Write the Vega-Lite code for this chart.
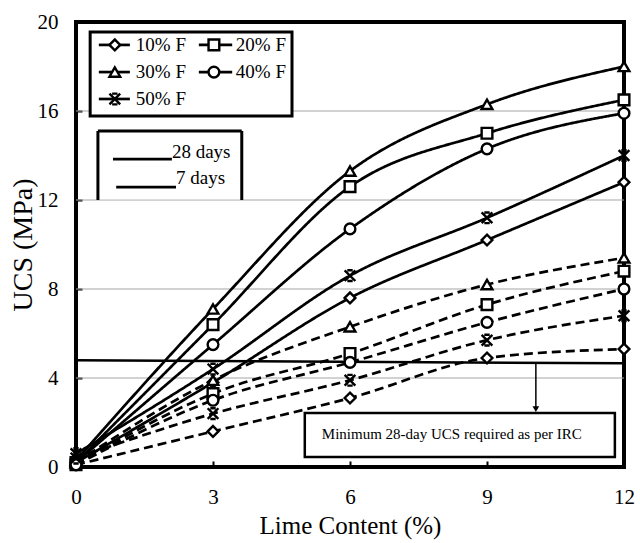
{
  "$schema": "https://vega.github.io/schema/vega-lite/v6.json",
  "width": 548,
  "height": 445,
  "autosize": {"type": "none"},
  "padding": {"left": 76, "top": 22, "right": 16, "bottom": 76},
  "background": "white",
  "datasets": {
    "ucs": [
      {"fly": "10% F", "age": "28 days", "x": 0, "y": 0.2},
      {"fly": "10% F", "age": "28 days", "x": 3, "y": 3.8},
      {"fly": "10% F", "age": "28 days", "x": 6, "y": 7.6},
      {"fly": "10% F", "age": "28 days", "x": 9, "y": 10.2},
      {"fly": "10% F", "age": "28 days", "x": 12, "y": 12.8},
      {"fly": "20% F", "age": "28 days", "x": 0, "y": 0.2},
      {"fly": "20% F", "age": "28 days", "x": 3, "y": 6.4},
      {"fly": "20% F", "age": "28 days", "x": 6, "y": 12.6},
      {"fly": "20% F", "age": "28 days", "x": 9, "y": 15.0},
      {"fly": "20% F", "age": "28 days", "x": 12, "y": 16.5},
      {"fly": "30% F", "age": "28 days", "x": 0, "y": 0.3},
      {"fly": "30% F", "age": "28 days", "x": 3, "y": 7.1},
      {"fly": "30% F", "age": "28 days", "x": 6, "y": 13.3},
      {"fly": "30% F", "age": "28 days", "x": 9, "y": 16.3},
      {"fly": "30% F", "age": "28 days", "x": 12, "y": 18.0},
      {"fly": "40% F", "age": "28 days", "x": 0, "y": 0.2},
      {"fly": "40% F", "age": "28 days", "x": 3, "y": 5.5},
      {"fly": "40% F", "age": "28 days", "x": 6, "y": 10.7},
      {"fly": "40% F", "age": "28 days", "x": 9, "y": 14.3},
      {"fly": "40% F", "age": "28 days", "x": 12, "y": 15.9},
      {"fly": "50% F", "age": "28 days", "x": 0, "y": 0.6},
      {"fly": "50% F", "age": "28 days", "x": 3, "y": 4.4},
      {"fly": "50% F", "age": "28 days", "x": 6, "y": 8.6},
      {"fly": "50% F", "age": "28 days", "x": 9, "y": 11.2},
      {"fly": "50% F", "age": "28 days", "x": 12, "y": 14.0},
      {"fly": "10% F", "age": "7 days", "x": 0, "y": 0.1},
      {"fly": "10% F", "age": "7 days", "x": 3, "y": 1.6},
      {"fly": "10% F", "age": "7 days", "x": 6, "y": 3.1},
      {"fly": "10% F", "age": "7 days", "x": 9, "y": 4.9},
      {"fly": "10% F", "age": "7 days", "x": 12, "y": 5.3},
      {"fly": "20% F", "age": "7 days", "x": 0, "y": 0.1},
      {"fly": "20% F", "age": "7 days", "x": 3, "y": 3.3},
      {"fly": "20% F", "age": "7 days", "x": 6, "y": 5.1},
      {"fly": "20% F", "age": "7 days", "x": 9, "y": 7.3},
      {"fly": "20% F", "age": "7 days", "x": 12, "y": 8.8},
      {"fly": "30% F", "age": "7 days", "x": 0, "y": 0.2},
      {"fly": "30% F", "age": "7 days", "x": 3, "y": 3.9},
      {"fly": "30% F", "age": "7 days", "x": 6, "y": 6.3},
      {"fly": "30% F", "age": "7 days", "x": 9, "y": 8.2},
      {"fly": "30% F", "age": "7 days", "x": 12, "y": 9.4},
      {"fly": "40% F", "age": "7 days", "x": 0, "y": 0.1},
      {"fly": "40% F", "age": "7 days", "x": 3, "y": 3.0},
      {"fly": "40% F", "age": "7 days", "x": 6, "y": 4.7},
      {"fly": "40% F", "age": "7 days", "x": 9, "y": 6.5},
      {"fly": "40% F", "age": "7 days", "x": 12, "y": 8.0},
      {"fly": "50% F", "age": "7 days", "x": 0, "y": 0.4},
      {"fly": "50% F", "age": "7 days", "x": 3, "y": 2.4},
      {"fly": "50% F", "age": "7 days", "x": 6, "y": 3.9},
      {"fly": "50% F", "age": "7 days", "x": 9, "y": 5.7},
      {"fly": "50% F", "age": "7 days", "x": 12, "y": 6.8}
    ],
    "grid": [
      {"x": 0, "x2": 12, "y": 4},
      {"x": 0, "x2": 12, "y": 8},
      {"x": 0, "x2": 12, "y": 12},
      {"x": 0, "x2": 12, "y": 16}
    ],
    "minline": [{"x": 0, "x2": 12, "y": 4.8, "y2": 4.66}],
    "arrow": [{"x": 10.07, "y": 4.68, "y2": 2.6}],
    "arrowhead": [{"x": 10.07, "y": 2.6}],
    "annobox": [{"x": 5.01, "x2": 11.8, "y": 0.45, "y2": 2.43}],
    "annotext": [{"x": 8.23, "y": 1.5, "label": "Minimum 28-day UCS required as per IRC"}],
    "leg1box": [{"x": 0.31, "x2": 4.73, "y": 15.78, "y2": 19.55}],
    "leg1seg": [
      {"fly": "10% F", "x": 0.5, "x2": 1.18, "y": 18.97},
      {"fly": "20% F", "x": 2.69, "x2": 3.42, "y": 18.97},
      {"fly": "30% F", "x": 0.5, "x2": 1.18, "y": 17.75},
      {"fly": "40% F", "x": 2.69, "x2": 3.42, "y": 17.75},
      {"fly": "50% F", "x": 0.5, "x2": 1.18, "y": 16.54}
    ],
    "leg1pt": [
      {"fly": "10% F", "x": 0.85, "y": 18.97},
      {"fly": "20% F", "x": 3.02, "y": 18.97},
      {"fly": "30% F", "x": 0.85, "y": 17.75},
      {"fly": "40% F", "x": 3.02, "y": 17.75},
      {"fly": "50% F", "x": 0.85, "y": 16.54}
    ],
    "leg1txt": [
      {"label": "10% F", "x": 1.31, "y": 18.97},
      {"label": "20% F", "x": 3.5, "y": 18.97},
      {"label": "30% F", "x": 1.31, "y": 17.75},
      {"label": "40% F", "x": 3.5, "y": 17.75},
      {"label": "50% F", "x": 1.31, "y": 16.54}
    ],
    "leg2fill": [{"x": 0.48, "x2": 3.63, "y": 12.03, "y2": 15.1}],
    "leg2sides": [
      {"x": 0.48, "x2": 0.48, "y": 12.0, "y2": 15.1},
      {"x": 0.48, "x2": 3.63, "y": 15.1, "y2": 15.1},
      {"x": 3.63, "x2": 3.63, "y": 15.1, "y2": 12.0}
    ],
    "leg2seg": [
      {"x": 0.81, "x2": 2.1, "y": 13.84},
      {"x": 0.88, "x2": 2.19, "y": 12.58}
    ],
    "leg2txt": [
      {"label": "28 days", "x": 2.1, "y": 14.16},
      {"label": "7 days", "x": 2.19, "y": 12.99}
    ]
  },
  "encoding": {
    "x": {
      "field": "x",
      "type": "quantitative",
      "scale": {"domain": [0, 12], "nice": false, "zero": false},
      "axis": {
        "title": "Lime Content (%)",
        "values": [0, 3, 6, 9, 12],
        "domain": false,
        "grid": false,
        "ticks": true,
        "tickSize": -6,
        "tickWidth": 2,
        "tickColor": "black",
        "labelFont": "Liberation Serif",
        "labelFontSize": 21,
        "labelColor": "black",
        "labelPadding": 25,
        "labelFlush": false,
        "labelOverlap": false,
        "titleFont": "Liberation Serif",
        "titleFontSize": 25,
        "titleFontWeight": "normal",
        "titleColor": "black",
        "titlePadding": 6
      }
    },
    "y": {
      "field": "y",
      "type": "quantitative",
      "scale": {"domain": [0, 20], "nice": false, "zero": true},
      "axis": {
        "title": "UCS (MPa)",
        "values": [0, 4, 8, 12, 16, 20],
        "domain": false,
        "grid": false,
        "ticks": true,
        "tickSize": -6,
        "tickWidth": 2,
        "tickColor": "black",
        "labelFont": "Liberation Serif",
        "labelFontSize": 21,
        "labelColor": "black",
        "labelPadding": 24,
        "labelFlush": false,
        "labelOverlap": false,
        "titleFont": "Liberation Serif",
        "titleFontSize": 28,
        "titleFontWeight": "normal",
        "titleColor": "black",
        "titlePadding": 0
      }
    }
  },
  "layer": [
    {
      "data": {"name": "grid"},
      "mark": {"type": "rule", "stroke": "#a6a6a6", "strokeWidth": 1.2},
      "encoding": {"x2": {"field": "x2"}}
    },
    {
      "data": {"name": "ucs"},
      "mark": {"type": "line", "color": "black", "strokeWidth": 2.7, "interpolate": "monotone"},
      "encoding": {
        "detail": [{"field": "fly"}, {"field": "age"}],
        "strokeDash": {
          "field": "age",
          "type": "nominal",
          "scale": {"domain": ["28 days", "7 days"], "range": [[1, 0], [9, 5]]},
          "legend": null
        }
      }
    },
    {
      "data": {"name": "minline"},
      "mark": {"type": "rule", "stroke": "black", "strokeWidth": 2.5},
      "encoding": {"x2": {"field": "x2"}, "y2": {"field": "y2"}}
    },
    {
      "data": {"name": "ucs"},
      "mark": {"type": "point", "filled": true, "fill": "white", "stroke": "black", "strokeWidth": 2.4, "size": 115, "opacity": 1},
      "encoding": {
        "shape": {
          "field": "fly",
          "type": "nominal",
          "scale": {
            "domain": ["10% F", "20% F", "30% F", "40% F", "50% F"],
            "range": ["diamond", "square", "triangle-up", "circle", "M-1,-1L1,1M1,-1L-1,1M-0.5,-1L0.5,-1M-0.5,1L0.5,1"]
          },
          "legend": null
        }
      }
    },
    {
      "data": {"name": "arrow"},
      "mark": {"type": "rule", "stroke": "black", "strokeWidth": 1.5},
      "encoding": {"y2": {"field": "y2"}}
    },
    {
      "data": {"name": "arrowhead"},
      "mark": {"type": "point", "shape": "triangle-down", "filled": true, "color": "black", "size": 45, "opacity": 1}
    },
    {
      "data": {"name": "annobox"},
      "mark": {"type": "rect", "fill": "white", "stroke": "black", "strokeWidth": 2.5},
      "encoding": {"x2": {"field": "x2"}, "y2": {"field": "y2"}}
    },
    {
      "data": {"name": "annotext"},
      "mark": {"type": "text", "font": "Liberation Serif", "fontSize": 15, "color": "black", "align": "center", "baseline": "middle"},
      "encoding": {"text": {"field": "label"}}
    },
    {
      "data": {"name": "leg1box"},
      "mark": {"type": "rect", "fill": "white", "stroke": "black", "strokeWidth": 3},
      "encoding": {"x2": {"field": "x2"}, "y2": {"field": "y2"}}
    },
    {
      "data": {"name": "leg1seg"},
      "mark": {"type": "rule", "stroke": "black", "strokeWidth": 2.7},
      "encoding": {"x2": {"field": "x2"}}
    },
    {
      "data": {"name": "leg1pt"},
      "mark": {"type": "point", "filled": true, "fill": "white", "stroke": "black", "strokeWidth": 2.4, "size": 115, "opacity": 1},
      "encoding": {
        "shape": {"field": "fly", "type": "nominal", "legend": null}
      }
    },
    {
      "data": {"name": "leg1txt"},
      "mark": {"type": "text", "font": "Liberation Serif", "fontSize": 19, "color": "black", "align": "left", "baseline": "middle"},
      "encoding": {"text": {"field": "label"}}
    },
    {
      "data": {"name": "leg2fill"},
      "mark": {"type": "rect", "fill": "white", "strokeWidth": 0},
      "encoding": {"x2": {"field": "x2"}, "y2": {"field": "y2"}}
    },
    {
      "data": {"name": "leg2sides"},
      "mark": {"type": "rule", "stroke": "black", "strokeWidth": 3},
      "encoding": {"x2": {"field": "x2"}, "y2": {"field": "y2"}}
    },
    {
      "data": {"name": "leg2seg"},
      "mark": {"type": "rule", "stroke": "black", "strokeWidth": 2.7},
      "encoding": {"x2": {"field": "x2"}}
    },
    {
      "data": {"name": "leg2txt"},
      "mark": {"type": "text", "font": "Liberation Serif", "fontSize": 19, "color": "black", "align": "left", "baseline": "middle"},
      "encoding": {"text": {"field": "label"}}
    }
  ],
  "config": {
    "view": {"stroke": "black", "strokeWidth": 4},
    "font": "Liberation Serif"
  }
}
